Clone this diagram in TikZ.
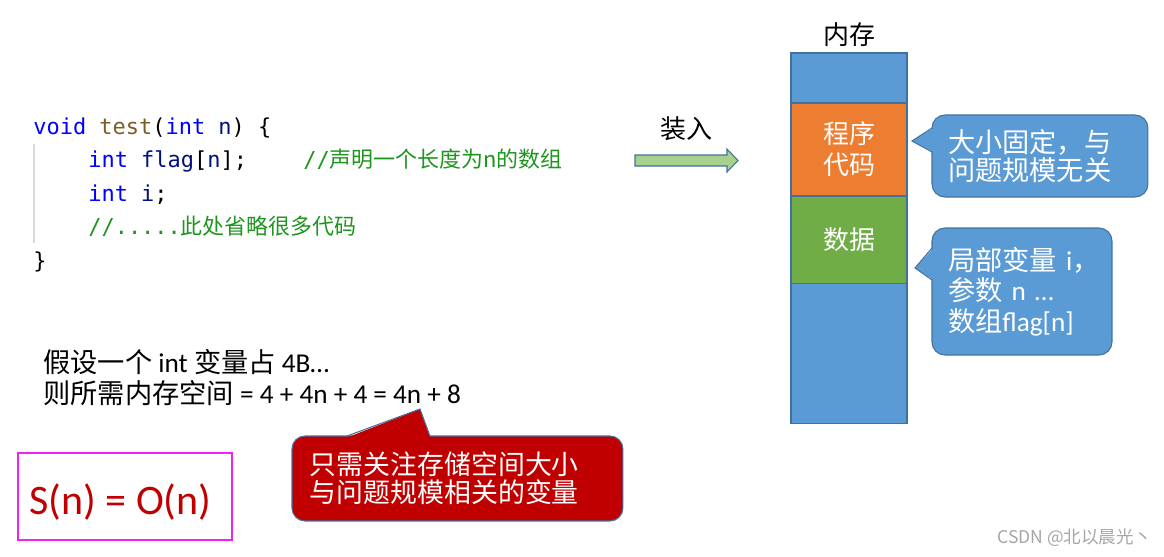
\documentclass[tikz,border=0pt]{standalone}
\usepackage{fontspec}
\setmainfont{Carlito}
\newfontfamily\cjk{Noto Sans CJK SC}
\newfontfamily\codefont{DejaVu Sans Mono}
\usetikzlibrary{
  positioning,
  calc
}
\definecolor{memblue}{HTML}{5B9BD5}
\definecolor{memline}{HTML}{41719C}
\definecolor{codeorange}{HTML}{ED7D31}
\definecolor{datagreen}{HTML}{70AD47}
\definecolor{arrowgreen}{HTML}{A9D18E}
\definecolor{focusred}{HTML}{C00000}
\definecolor{framemagenta}{HTML}{F022F0}
\definecolor{kwblue}{HTML}{0000FF}
\definecolor{fnbrown}{HTML}{795E26}
\definecolor{varblue}{HTML}{001080}
\definecolor{cmtgreen}{HTML}{1E961E}
\newcommand{\zh}[1]{{\cjk #1}}
\newcommand{\kw}[1]{\textcolor{kwblue}{#1}}
\newcommand{\fn}[1]{\textcolor{fnbrown}{#1}}
\newcommand{\var}[1]{\textcolor{varblue}{#1}}

\begin{document}
\begin{tikzpicture}[
  x=0.02cm, y=-0.02cm,
  codeline/.style={anchor=base west, inner sep=0, font=\codefont\fontsize{12.5}{15}\selectfont},
  memcell/.style={draw=memline, line width=0.6pt, minimum width=2.32cm, inner sep=0, outer sep=0,
    text=white, align=center, font=\cjk\fontsize{14.8}{17.6}\selectfont},
  bubble/.style={draw=memline, fill=memblue, line width=0.6pt, rounded corners=0.26cm, anchor=north west,
    inner xsep=0.32cm, inner ysep=0, outer sep=0, text=white, align=left},
  edge/.style={draw=memline, line width=0.6pt}
]
  \useasboundingbox (0,0) rectangle (1164,556);

  % code
  \draw[gray!30, line width=0.6pt] (34,144) -- (34,243);
  \node[codeline] (l1) at (33,134) {\kw{void} \fn{test}(\kw{int} \var{n}) \{};
  \node[codeline] (l2) at (88,167.5) {\kw{int} \var{flag}[\var{n}];};
  \node[codeline, text=cmtgreen] (c2) at (303,167.5) {//\cjk 声明一个长度为n的数组};
  \node[codeline] (l3) at (88,201) {\kw{int} \var{i};};
  \node[codeline, text=cmtgreen] (l4) at (88,234.5) {//.....\cjk 此处省略很多代码};
  \node[codeline] (l5) at (33,268) {\}};

  % load arrow
  \node[font=\cjk\fontsize{14.8}{17}\selectfont, inner sep=0] (loadlabel) at (686,129) {装入};
  \draw[edge, fill=arrowgreen] (635,155) -- (727,155) -- (727,149) -- (738,160.5)
    -- (727,172) -- (727,166) -- (635,166) -- cycle;

  % memory
  \node[memcell, fill=memblue, minimum height=1cm, anchor=north] (memtop) at (849,53) {};
  \node[memcell, fill=codeorange, minimum height=1.86cm, below=0pt of memtop] (code) {程序\\代码};
  \node[memcell, fill=datagreen, minimum height=1.76cm, below=0pt of code] (data) {数据};
  \node[memcell, fill=memblue, minimum height=2.8cm, below=0pt of data] (membot) {};
  \node[font=\cjk\fontsize{14.8}{17}\selectfont, above=0pt of memtop] (memlabel) {内存};

  % notes on the memory
  \node[bubble, text width=3.68cm, minimum height=1.64cm, font=\fontsize{15.5}{16.4}\selectfont]
    (sizenote) at (932,115) {\zh{大小固定，与}\\\zh{问题规模无关}};
  \coordinate (sizetip) at ($(code.east)+(5,-8.5)$);
  \fill[memblue] ($(sizenote.north west)+(1.5,13)$) -- (sizetip) -- ($(sizenote.north west)+(1.5,37)$) -- cycle;
  \draw[edge] ($(sizenote.north west)+(0,13)$) -- (sizetip) -- ($(sizenote.north west)+(0,37)$);

  \node[bubble, text width=2.96cm, minimum height=2.54cm, font=\fontsize{15.5}{17.3}\selectfont]
    (datanote) at (932,228) {\mbox{\zh{局部变量} i\zh{，}}\\\zh{参数} n …\\\zh{数组}flag[n]};
  \coordinate (datatip) at ($(data.east)+(8,28)$);
  \fill[memblue] ($(datanote.north west)+(1.5,20)$) -- (datatip) -- ($(datanote.north west)+(1.5,52)$) -- cycle;
  \draw[edge] ($(datanote.north west)+(0,20)$) -- (datatip) -- ($(datanote.north west)+(0,52)$);

  % space estimate
  \node[anchor=west, inner sep=0, align=left, font=\fontsize{15.5}{17.6}\selectfont] (assume) at (43,377.5)
    {\zh{假设一个} int \zh{变量占} 4B…\\\zh{则所需内存空间} = 4 + 4n + 4 = 4n + 8};

  \node[bubble, fill=focusred, text width=5.9cm, inner xsep=0.36cm, minimum height=1.7cm,
    font=\fontsize{15.3}{15.9}\selectfont] (focusnote) at (292,436) {\zh{只需关注存储空间大小}\\\zh{与问题规模相关的变量}};
  \coordinate (focustip) at (420,409);
  \fill[focusred] ($(focusnote.north west)+(55,1.5)$) -- (focustip) -- ($(focusnote.north west)+(138,1.5)$) -- cycle;
  \draw[edge] ($(focusnote.north west)+(55,0)$) -- (focustip) -- ($(focusnote.north west)+(138,0)$);

  % result
  \node[draw=framemagenta, line width=1.5pt, minimum width=4.28cm, minimum height=1.74cm] (soframe) at (125,496.5) {};
  \node[text=focusred, font=\fontsize{23.9}{28}\selectfont, inner sep=0] (bigo) at (120.5,502) {S(n) = O(n)};

  \node[anchor=east, inner sep=0, text=gray!70, font=\cjk\fontsize{10}{12}\selectfont] (mark) at (1152,538) {CSDN @北以晨光丶};
\end{tikzpicture}
\end{document}
